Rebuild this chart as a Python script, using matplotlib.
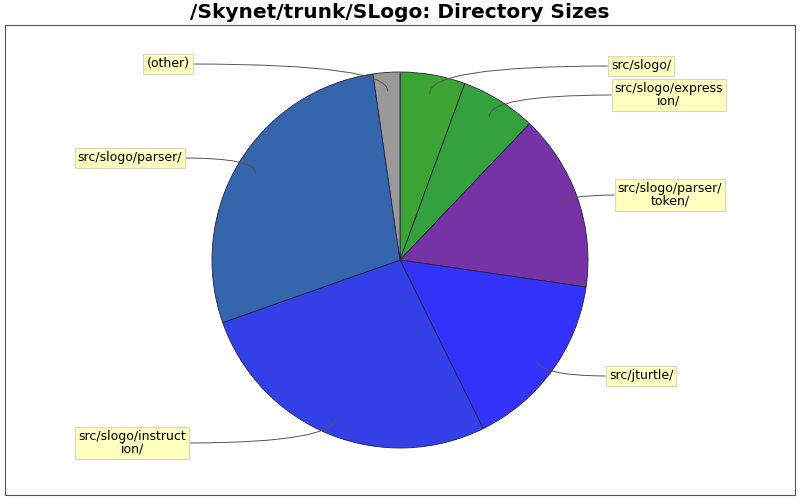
import numpy as np
import matplotlib
matplotlib.use("Agg")
import matplotlib.pyplot as plt
from matplotlib.patches import Rectangle

# slice data, clockwise from 12 o'clock
labels = ["src/slogo/", "src/slogo/express\nion/", "src/slogo/parser/\ntoken/",
          "src/jturtle/", "src/slogo/instruct\nion/", "src/slogo/parser/", "(other)"]
sizes = [5.6, 6.5, 15.2, 15.4, 26.9, 28.1, 2.3]
colors = ["#3ca432", "#34a03e", "#7533a6", "#3333fd", "#3340e8", "#3465ad", "#999999"]

# label box centres (pixels, y down)
label_pos = [(641, 66), (669, 95), (670, 195), (641, 376), (132, 443), (130, 158), (168, 64)]

W, H = 800, 500
fig = plt.figure(figsize=(8, 5), dpi=100)
ax = fig.add_axes([0, 0, 1, 1])

# plot frame
ax.add_patch(Rectangle((5, 5), 790, 470, fill=False, ec="#555555", lw=0.8))
ax.text(400, 487, "/Skynet/trunk/SLogo: Directory Sizes", ha="center", va="center",
        fontsize=14.5, fontweight="bold", family="DejaVu Sans")

cx, cy, R = 400, 240, 188
wedges, _ = ax.pie(sizes, colors=colors, startangle=90, counterclock=False,
                   center=(cx, cy), radius=R, frame=True,
                   wedgeprops=dict(ec="#222244", lw=0.6))
ax.set_xlim(0, W)
ax.set_ylim(0, H)
ax.set_aspect("equal")
ax.axis("off")

for w, lab, (lx, ly) in zip(wedges, labels, label_pos):
    mid = np.deg2rad((w.theta1 + w.theta2) / 2)
    ax_x = cx + 0.9 * R * np.cos(mid)
    ax_y = cy + 0.9 * R * np.sin(mid)
    right = lx > cx
    ax.annotate(lab, xy=(ax_x, ax_y), xytext=(lx, H - ly),
                ha="center", va="center", fontsize=9, linespacing=1.0,
                bbox=dict(boxstyle="square,pad=0.25", fc="#ffffc0", ec="#d8d8c0", lw=0.8),
                arrowprops=dict(arrowstyle="-", color="#555555", lw=0.7,
                                relpos=(0, 0.5) if right else (1, 0.5),
                                connectionstyle="angle3,angleA=0,angleB=90",
                                shrinkA=0, shrinkB=0))

fig.savefig("out.png", dpi=100)
